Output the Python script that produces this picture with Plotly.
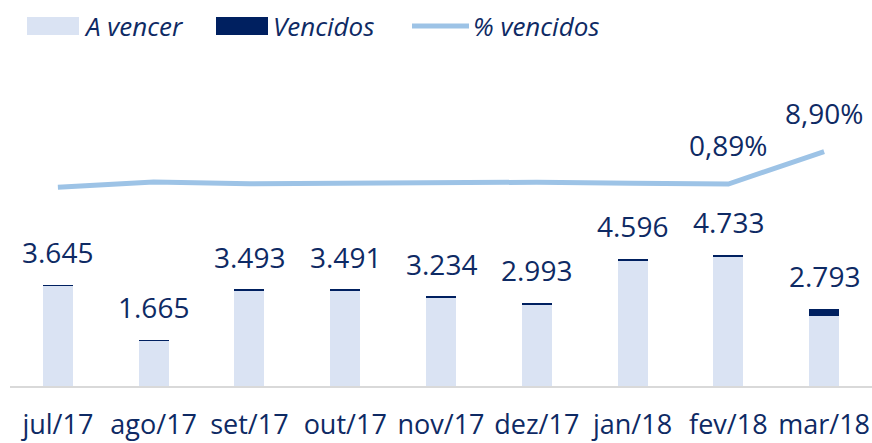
import plotly.graph_objects as go

categories = ["jul/17", "ago/17", "set/17", "out/17", "nov/17", "dez/17", "jan/18", "fev/18", "mar/18"]
totals = [3645, 1665, 3493, 3491, 3234, 2993, 4596, 4733, 2793]
total_labels = ["3.645", "1.665", "3.493", "3.491", "3.234", "2.993", "4.596", "4.733", "2.793"]
a_vencer = [3642, 1642, 3459, 3451, 3194, 2953, 4547, 4691, 2544]
vencidos = [3, 23, 34, 40, 40, 40, 49, 42, 249]
pct_vencidos = [0.07, 1.39, 0.96, 1.16, 1.23, 1.33, 1.06, 0.89, 8.90]
pct_labels = ["", "", "", "", "", "", "", "0,89%", "8,90%"]

W, H = 872, 443
ML, MR, MT, MB = 10, 0, 50, 57
PW, PH = W - ML - MR, H - MT - MB

NAVY = "#0e2a64"
LIGHT = "#dae3f3"
DARK = "#002060"
LINE = "#9dc3e6"
FONT = "Open Sans"


def px(x):
    return (x - ML) / PW


def py(y):
    return (H - MB - y) / PH


fig = go.Figure()
fig.add_trace(go.Bar(x=categories, y=a_vencer, marker=dict(color=LIGHT, line=dict(width=0)),
                     name="A vencer", showlegend=False, hoverinfo="skip"))
fig.add_trace(go.Bar(x=categories, y=vencidos, marker=dict(color=DARK, line=dict(width=0)),
                     name="Vencidos", showlegend=False, hoverinfo="skip"))
fig.add_trace(go.Scatter(x=categories, y=pct_vencidos, yaxis="y2", mode="lines",
                         line=dict(color=LINE, width=5), name="% vencidos", showlegend=False,
                         hoverinfo="skip"))

annotations = []
for c, t, lab in zip(categories, totals, total_labels):
    annotations.append(dict(x=c, y=t, xref="x", yref="y", text=lab, showarrow=False,
                            yanchor="middle", yshift=33,
                            font=dict(family=FONT, size=28, color=NAVY)))
for c, v, lab in zip(categories, pct_vencidos, pct_labels):
    if lab:
        annotations.append(dict(x=c, y=v, xref="x", yref="y2", text=lab, showarrow=False,
                                yanchor="middle", yshift=39,
                                font=dict(family=FONT, size=28, color=NAVY)))

# manual legend (pixel coordinates)
legend_items = [("A vencer", "rect", LIGHT, 27, 79, 82),
                ("Vencidos", "rect", DARK, 216, 268, 271),
                ("% vencidos", "line", LINE, 412, 469, 471)]
shapes = []
for name, kind, col, x0, x1, tx in legend_items:
    if kind == "rect":
        shapes.append(dict(type="rect", xref="paper", yref="paper", x0=px(x0), x1=px(x1),
                           y0=py(35), y1=py(17), fillcolor=col, line=dict(width=0)))
    else:
        shapes.append(dict(type="line", xref="paper", yref="paper", x0=px(x0), x1=px(x1),
                           y0=py(26), y1=py(26), line=dict(color=col, width=5)))
    annotations.append(dict(x=px(tx), y=py(26), xref="paper", yref="paper", text="<i>" + name + "</i>",
                            showarrow=False, xanchor="left", yanchor="middle",
                            font=dict(family=FONT, size=26, color=NAVY)))

fig.update_layout(
    width=W, height=H,
    margin=dict(l=ML, r=MR, t=MT, b=MB, pad=0, autoexpand=False),
    paper_bgcolor="white", plot_bgcolor="white",
    barmode="stack", bargap=0.687,
    showlegend=False,
    xaxis=dict(showline=True, linecolor="#d9d9d9", linewidth=2, showgrid=False, ticks="",
               automargin=False,
               tickfont=dict(family=FONT, size=27, color=NAVY), ticklabelstandoff=14),
    yaxis=dict(range=[0, 12170], visible=False, showgrid=False, automargin=False),
    yaxis2=dict(range=[-49.23, 34.14], overlaying="y", visible=False, showgrid=False,
                automargin=False),
    annotations=annotations,
    shapes=shapes,
)

fig.write_html("out.html", config={"displayModeBar": False},
               post_script="document.body.style.margin='0';document.body.style.overflow='hidden';")
